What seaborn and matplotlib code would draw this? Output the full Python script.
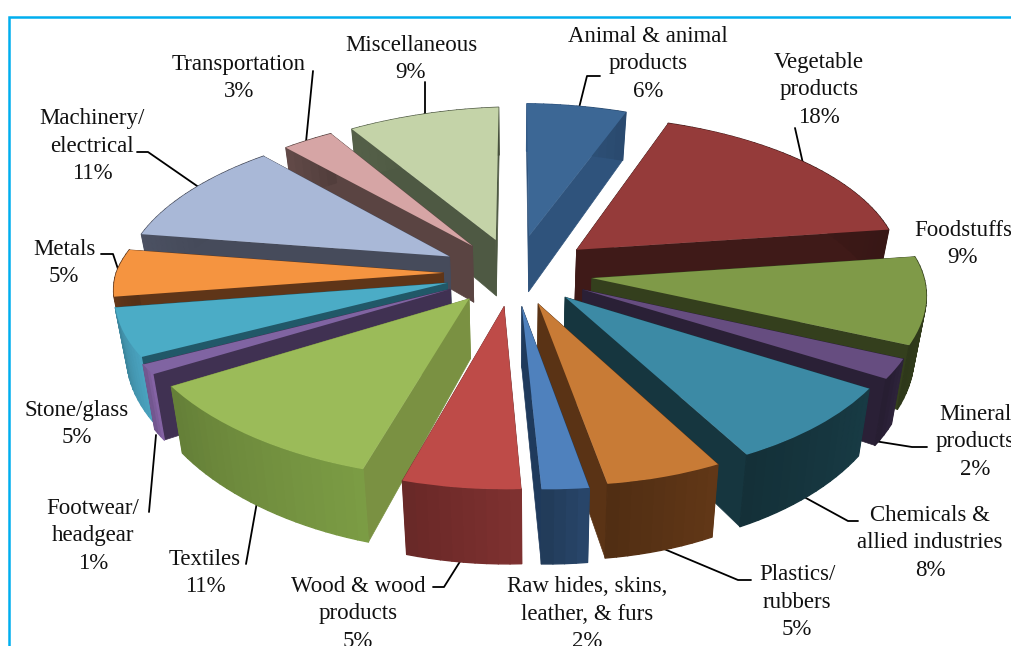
import numpy as np
import matplotlib
matplotlib.use("Agg")
import matplotlib.pyplot as plt
from matplotlib.transforms import Transform
from matplotlib.collections import PolyCollection
from matplotlib.colors import to_rgb
import seaborn as sns

categories = ["Animal & animal\nproducts", "Vegetable\nproducts", "Foodstuffs", "Mineral\nproducts",
              "Chemicals &\nallied industries", "Plastics/\nrubbers", "Raw hides, skins,\nleather, & furs",
              "Wood & wood\nproducts", "Textiles", "Footwear/\nheadgear", "Stone/glass", "Metals",
              "Machinery/\nelectrical", "Transportation", "Miscellaneous"]
shares = [6, 18, 9, 2, 8, 5, 2, 5, 11, 1, 5, 5, 11, 3, 9]
explode = [.24, .24, .24, .24, .23, .23, .24, .24, .23, .23, .22, .22, .23, .22, .22]
top_colors = ["#3C6795", "#953B3A", "#7F9A48", "#664D80", "#3C8AA5", "#C87B36", "#4F81BD", "#BE4B48",
              "#9BBB59", "#8064A2", "#4BACC6", "#F59440", "#A9B8D7", "#D6A5A5", "#C4D3A8"]
rim_colors = ["#2F537C", "#3F1A18", "#343F1D", "#2A2036", "#16363F", "#5A3315", "#254061", "#752D2C",
              "#72903F", "#7A5C98", "#4496B0", "#5F3518", "#464B5B", "#5A4442", "#4E5943"]
radial_colors = ["#2F537C", "#3F1A18", "#343F1D", "#2A2036", "#16363F", "#5A3315", "#1F3A5C", "#752D2C",
                 "#7A9142", "#403152", "#215868", "#5F3518", "#464B5B", "#5A4442", "#4E5943"]
label_pos = [(648, 64), (819, 90), (963, 244), (975, 442), (930, 543), (797, 602), (587, 614), (358, 614),
             (205, 573), (93, 536), (77, 424), (64, 263), (92, 146), (239, 78), (411, 59)]
leaders = [[(578, 112), (587, 76), (600, 76)], [(804, 168), (795, 128)], None,
           [(868, 440), (912, 447), (927, 447)], [(795, 492), (848, 521), (858, 521)],
           [(645, 541), (738, 580), (751, 580)], None, [(466, 552), (444, 587), (433, 587)],
           [(257, 502), (246, 564)], [(156, 435), (149, 512)], None,
           [(119, 272), (113, 254), (101, 254)], [(200, 188), (148, 152), (137, 152)],
           [(306, 142), (313, 71)], [(425, 115), (425, 82)]]

CX, CY, RX, RY, P, DEPTH, SHRINK = 515, 265, 325, 148, 0.18, 58, 0.03


def project(x, y, z=0.0):
    x, y = np.asarray(x, dtype=float), np.asarray(y, dtype=float)
    s = 1 / (1 + P * y)
    lean = np.abs(np.minimum(y, 0)) ** 1.5 * (15 - 25 * x)
    dome = 5 - 11 * (x ** 2 + y ** 2) - 11 * np.minimum(x, 0) + 4 * np.maximum(x, 0)
    return (CX + RX * x * s * (1 - SHRINK * z) + lean,
            CY - RY * y * s + DEPTH * z * s + dome)


class Tilt(Transform):
    input_dims = output_dims = 2

    def transform_non_affine(self, values):
        v = np.asarray(values, dtype=float)
        return np.column_stack(project(v[:, 0], v[:, 1]))


sns.set_theme(style="white")
plt.rcParams["font.family"] = ["Liberation Serif", "DejaVu Serif"]
fig = plt.figure(figsize=(10.11, 6.46), dpi=100, facecolor="white")
ax = fig.add_axes([0, 0, 1, 1])

wedges, _ = ax.pie(shares, explode=explode, colors=sns.color_palette(top_colors), startangle=90,
                   counterclock=False, radius=1, wedgeprops={"linewidth": 0})
ax.set_aspect("auto")
ax.set_xlim(0, 1011)
ax.set_ylim(646, 0)
ax.axis("off")

edges = np.cumsum([0] + shares) / 100 * 2 * np.pi
order = np.argsort([-np.cos((edges[i] + edges[i + 1]) / 2) for i in range(len(shares))])
tilt = Tilt()
for rank, i in enumerate(order):
    a0, a1 = edges[i], edges[i + 1]
    mid = (a0 + a1) / 2
    ox, oy = explode[i] * np.sin(mid), explode[i] * np.cos(mid)
    z = 10 + rank * 3

    def q(r, a, depth):
        return project(ox + r * np.sin(a), oy + r * np.cos(a), depth)

    radial = [[q(0, a, 0), q(1, a, 0), q(1, a, 1), q(0, a, 1)] for a in (a0, a1)]
    ax.add_collection(PolyCollection(radial, facecolors=radial_colors[i], edgecolors=radial_colors[i],
                                     linewidths=0.5, zorder=z))
    n = max(3, int(shares[i] * 2))
    angles = np.linspace(a0, a1, n + 1)
    base = np.array(to_rgb(rim_colors[i]))
    strips = [[q(1, angles[k], 0), q(1, angles[k + 1], 0), q(1, angles[k + 1], 1), q(1, angles[k], 1)]
              for k in range(n)]
    shade = [np.clip(base * (1.08 - 0.2 * k / n), 0, 1) for k in range(n)]
    ax.add_collection(PolyCollection(strips, facecolors=shade, edgecolors=shade, linewidths=1.0, zorder=z + 1))
    wedges[i].set_transform(tilt + ax.transData)
    wedges[i].set_zorder(z + 2)
    wedges[i].set_clip_on(False)

ax.plot([9, 9, 1011], [646, 17, 17], color="#00AEEF", lw=1.8, zorder=100, solid_joinstyle="miter")

for name, share, pos, lead in zip(categories, shares, label_pos, leaders):
    ax.text(pos[0], pos[1], f"{name}\n{share}%", ha="center", va="center", fontsize=16.5,
            linespacing=1.4, color="#111111", zorder=90)
    if lead:
        xs, ys = zip(*lead)
        ax.plot(xs, ys, color="black", lw=1.3, zorder=5)

fig.savefig("out.png", dpi=100)
